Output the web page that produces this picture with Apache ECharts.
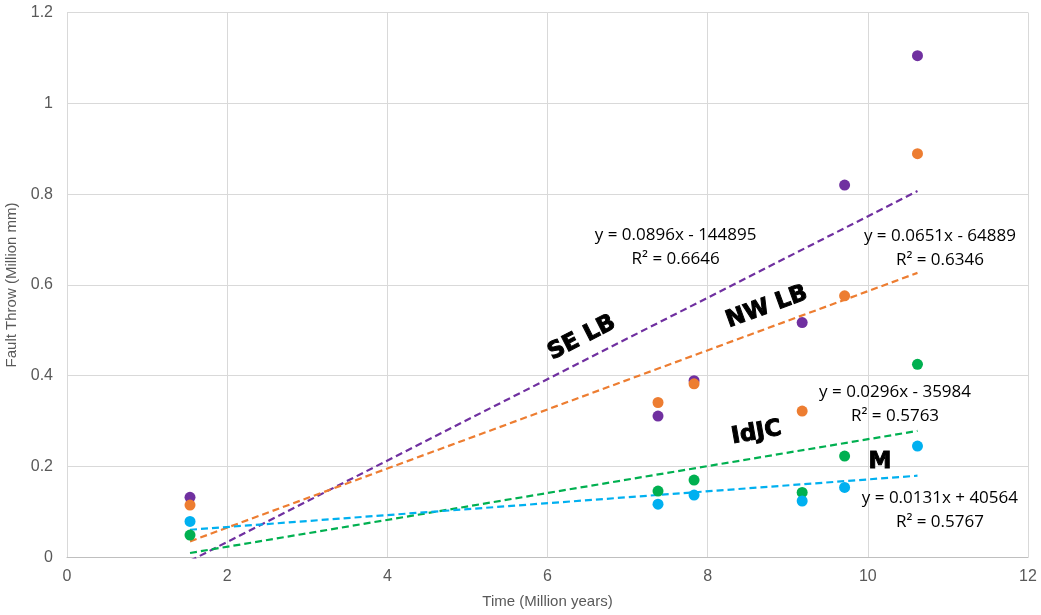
<!DOCTYPE html>
<html><head><meta charset="utf-8">
<script src="https://cdn.jsdelivr.net/npm/echarts@6/dist/echarts.min.js"></script>
<style>html,body{margin:0;padding:0;background:#fff}#c{width:1041px;height:615px}</style>
</head><body><div id="c"></div>
<script>
const timeX = [1.536, 7.38, 7.83, 9.18, 9.71, 10.62];
const seLB = [0.132, 0.311, 0.389, 0.517, 0.820, 1.105];
const nwLB = [0.115, 0.341, 0.382, 0.322, 0.576, 0.889];
const idJC = [0.049, 0.146, 0.170, 0.143, 0.223, 0.425];
const mSer = [0.079, 0.117, 0.137, 0.124, 0.154, 0.245];
const trendX = [1.536, 10.62];
const seTrend = [-0.0078, 0.8067];
const nwTrend = [0.0351, 0.6265];
const idTrend = [0.0095, 0.2784];
const mTrend = [0.0607, 0.1797];
const names = ['SE LB', 'NW LB', 'IdJC', 'M'];
const colors = ['#7030A0', '#ED7D31', '#00B050', '#00B0F0'];
const eqTexts = ['y = 0.0896x - 144895\nR² = 0.6646', 'y = 0.0651x - 64889\nR² = 0.6346', 'y = 0.0296x - 35984\nR² = 0.5763', 'y = 0.0131x + 40564\nR² = 0.5767'];
const eqPos = [[7.60, 0.684], [10.90, 0.681], [10.34, 0.337], [10.90, 0.103]];
const namePos = [[6.43, 0.483], [8.74, 0.551], [8.61, 0.274], [10.15, 0.210]];
const nameRot = [27, 20, 10, 0];

const pts = [seLB, nwLB, idJC, mSer];
const trends = [seTrend, nwTrend, idTrend, mTrend];
const series = [];
for (let i = 0; i < 4; i++) {
  series.push({
    type: 'line', name: names[i] + ' trend', data: trendX.map((x, j) => [x, trends[i][j]]),
    symbol: 'none', clip: true, lineStyle: { color: colors[i], width: 2.2, type: [7, 4] }, z: 2
  });
}
for (let i = 0; i < 4; i++) {
  series.push({
    type: 'scatter', name: names[i], data: timeX.map((x, j) => [x, pts[i][j]]),
    symbolSize: 11, itemStyle: { color: colors[i], opacity: 1 }, z: 3
  });
}
const chart = echarts.init(document.getElementById('c'));
chart.setOption({
  animation: false,
  grid: { left: 67, right: 13, top: 12.5, bottom: 57.7, containLabel: false, outerBoundsMode: 'none' },
  xAxis: {
    type: 'value', min: 0, max: 12, interval: 2,
    name: 'Time (Million years)', nameLocation: 'middle', nameGap: 37,
    nameTextStyle: { color: '#595959', fontSize: 15, fontFamily: 'Liberation Sans' },
    axisLine: { show: true, lineStyle: { color: '#bfbfbf' } }, axisTick: { show: false },
    axisLabel: { color: '#595959', fontSize: 16, fontFamily: 'Liberation Sans', margin: 11 },
    splitLine: { show: true, lineStyle: { color: '#d9d9d9' } }
  },
  yAxis: {
    type: 'value', min: 0, max: 1.2, interval: 0.2,
    name: 'Fault Throw (Million mm)', nameLocation: 'middle', nameGap: 37,
    nameTextStyle: { color: '#595959', fontSize: 15, fontFamily: 'Liberation Sans' },
    axisLine: { show: true, lineStyle: { color: '#d9d9d9' } }, axisTick: { show: false },
    axisLabel: { color: '#595959', fontSize: 16, fontFamily: 'Liberation Sans', margin: 14 },
    splitLine: { show: true, lineStyle: { color: '#d9d9d9' } }
  },
  series: series
});
const g = [];
for (let i = 0; i < 4; i++) {
  const p = chart.convertToPixel({ gridIndex: 0 }, eqPos[i]);
  g.push({ type: 'text', x: p[0], y: p[1], z: 10, style: { text: eqTexts[i], fill: '#000', font: '17px "Open Sans"', align: 'center', verticalAlign: 'middle', lineHeight: 24 } });
  const q = chart.convertToPixel({ gridIndex: 0 }, namePos[i]);
  g.push({ type: 'text', x: q[0], y: q[1], rotation: nameRot[i] * Math.PI / 180, z: 10, style: { text: names[i], fill: '#000', stroke: '#000', lineWidth: 1, font: '900 23px "DejaVu Sans"', align: 'center', verticalAlign: 'middle' } });
}
chart.setOption({ graphic: g });
</script></body></html>
